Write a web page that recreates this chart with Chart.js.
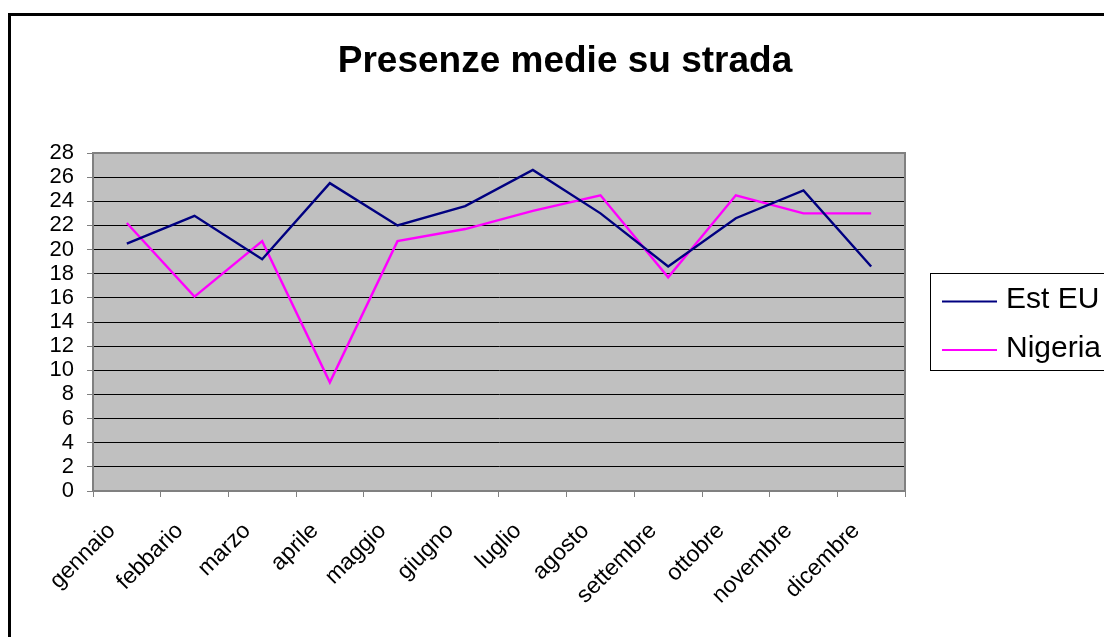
<!DOCTYPE html>
<html>
<head>
<meta charset="utf-8">
<script src="https://cdn.jsdelivr.net/npm/chart.js@4/dist/chart.umd.min.js"></script>
<style>
  html, body { margin: 0; padding: 0; background: #fff; }
  canvas { display: block; }
</style>
</head>
<body>
<canvas id="presenzeChart" width="1104" height="637"></canvas>
<script>
// dati
const mesi = ['gennaio', 'febbario', 'marzo', 'aprile', 'maggio', 'giugno',
    'luglio', 'agosto', 'settembre', 'ottobre', 'novembre', 'dicembre'];
const estEU = [20.5, 22.8, 19.2, 25.5, 22.0, 23.6, 26.6, 23.0, 18.6, 22.6, 24.9, 18.6];
const nigeria = [22.2, 16.1, 20.7, 9.0, 20.7, 21.7, 23.2, 24.5, 17.7, 24.5, 23.0, 23.0];
const yTicks = [0, 2, 4, 6, 8, 10, 12, 14, 16, 18, 20, 22, 24, 26, 28];

const titolo = 'Presenze medie su strada';
const FONT = "'Liberation Sans', Arial, sans-serif";

// sfondo grigio dell'area del grafico, cornice, titolo e legenda
const excelLook = {
    id: 'excelLook',
    beforeDraw(chart) {
        const { ctx, chartArea: a } = chart;
        ctx.save();
        ctx.fillStyle = '#C0C0C0';
        ctx.fillRect(a.left, a.top, a.right - a.left, a.bottom - a.top);
        ctx.restore();
    },
    beforeDatasetsDraw(chart) {
        const { ctx, chartArea: a } = chart;
        ctx.save();
        ctx.strokeStyle = '#808080';
        ctx.lineWidth = 2;
        ctx.strokeRect(a.left, a.top, a.right - a.left, a.bottom - a.top);
        ctx.restore();
    },
    afterDraw(chart) {
        const ctx = chart.ctx;
        ctx.save();
        // cornice esterna
        ctx.strokeStyle = '#000';
        ctx.lineWidth = 3;
        ctx.strokeRect(9.5, 14.5, 1200, 700);

        // titolo
        ctx.fillStyle = '#000';
        ctx.font = 'bold 37px ' + FONT;
        ctx.textAlign = 'center';
        ctx.textBaseline = 'alphabetic';
        ctx.fillText(titolo, 565, 72);

        // legenda
        ctx.lineWidth = 1;
        ctx.strokeStyle = '#000';
        ctx.strokeRect(930.5, 273.5, 300, 97);
        ctx.font = '30px ' + FONT;
        ctx.textAlign = 'left';
        chart.data.datasets.forEach((ds, i) => {
            const y = 301.5 + i * 48.5;
            ctx.strokeStyle = ds.borderColor;
            ctx.lineWidth = 2;
            ctx.beginPath();
            ctx.moveTo(942, y);
            ctx.lineTo(997, y);
            ctx.stroke();
            ctx.fillStyle = '#000';
            ctx.fillText(ds.label, 1006, y + 6.5);
        });
        ctx.restore();
    }
};

new Chart(document.getElementById('presenzeChart'), {
    type: 'line',
    data: {
        labels: mesi,
        datasets: [{
            label: 'Est EU',
            data: estEU,
            borderColor: '#000080',
            borderWidth: 2.4,
            pointRadius: 0,
            tension: 0,
            fill: false
        }, {
            label: 'Nigeria',
            data: nigeria,
            borderColor: '#FF00FF',
            borderWidth: 2.4,
            pointRadius: 0,
            tension: 0,
            fill: false
        }]
    },
    options: {
        responsive: false,
        animation: false,
        layout: {
            padding: { top: 153, right: 199, left: 0, bottom: 0 }
        },
        plugins: {
            legend: { display: false },
            title: { display: false },
            tooltip: { enabled: false }
        },
        scales: {
            x: {
                offset: true,
                afterFit(scale) { scale.height = 146; },
                grid: {
                    offset: true,
                    drawOnChartArea: false,
                    tickLength: 6,
                    tickColor: '#808080'
                },
                border: { color: '#808080', width: 2 },
                ticks: {
                    color: '#000',
                    font: { family: FONT, size: 23, lineHeight: 1 },
                    minRotation: 45,
                    maxRotation: 45,
                    autoSkip: false,
                    padding: 22,
                    labelOffset: -15
                }
            },
            y: {
                min: yTicks[0],
                max: yTicks[yTicks.length - 1],
                afterFit(scale) { scale.width = 93; },
                afterBuildTicks(scale) {
                    scale.ticks = yTicks.map(v => ({ value: v }));
                },
                grid: {
                    color: '#000',
                    lineWidth: 1,
                    tickLength: 6,
                    tickColor: '#808080'
                },
                border: { color: '#808080', width: 2 },
                ticks: {
                    color: '#000',
                    autoSkip: false,
                    font: { family: FONT, size: 22 },
                    padding: 13
                }
            }
        }
    },
    plugins: [excelLook]
});
</script>
</body>
</html>
